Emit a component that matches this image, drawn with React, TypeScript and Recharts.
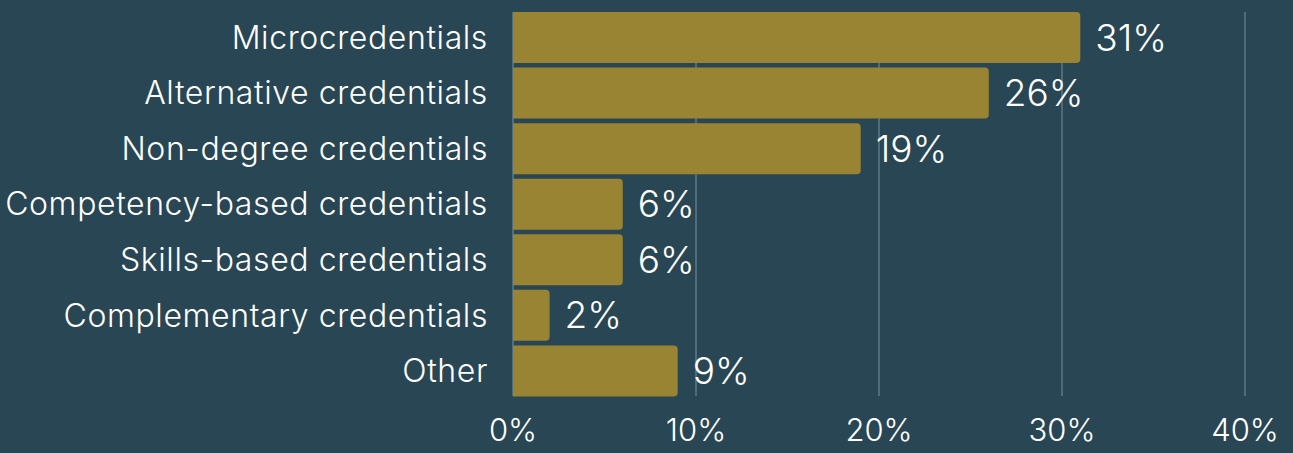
import { Bar, BarChart, CartesianGrid, LabelList, XAxis, YAxis } from "recharts";

const categories = [
  "Microcredentials",
  "Alternative credentials",
  "Non-degree credentials",
  "Competency-based credentials",
  "Skills-based credentials",
  "Complementary credentials",
  "Other",
];
const shares = [31, 26, 19, 6, 6, 2, 9];
const xTicks = [0, 10, 20, 30, 40];

const data = categories.map((name, i) => ({ name, share: shares[i] }));

const font = "Inter, sans-serif";

export default function App() {
  return (
    <div style={{ position: "absolute", left: 0, top: 0, width: 1293, height: 453, background: "#284653" }}>
      <BarChart
        width={1293}
        height={453}
        data={data}
        layout="vertical"
        margin={{ top: 9.5, right: 48, left: 0, bottom: 14.5 }}
        barCategoryGap={2.5}
      >
        <CartesianGrid horizontal={false} stroke="#5f7a86" strokeWidth={1.5} y={12} height={384} />
        <XAxis
          type="number"
          domain={[0, 40]}
          ticks={xTicks}
          tickFormatter={(v) => `${v}%`}
          axisLine={false}
          tickLine={false}
          height={40}
          tickMargin={14}
          tick={{ fill: "#ffffff", fontFamily: font, fontSize: 31, fontWeight: 300 }}
        />
        <YAxis
          type="category"
          dataKey="name"
          width={513}
          axisLine={false}
          tickLine={false}
          tickSize={0}
          tickMargin={25}
          interval={0}
          tick={{ fill: "#ffffff", fontFamily: font, fontSize: 32, fontWeight: 300, letterSpacing: 0.6 }}
        />
        <Bar dataKey="share" fill="#998433" radius={[0, 4, 4, 0]} isAnimationActive={false}>
          <LabelList
            dataKey="share"
            position="right"
            offset={15}
            formatter={(v: number) => `${v}%`}
            fill="#ffffff"
            style={{ fontFamily: font, fontSize: 37, fontWeight: 300 }}
          />
        </Bar>
      </BarChart>
    </div>
  );
}
